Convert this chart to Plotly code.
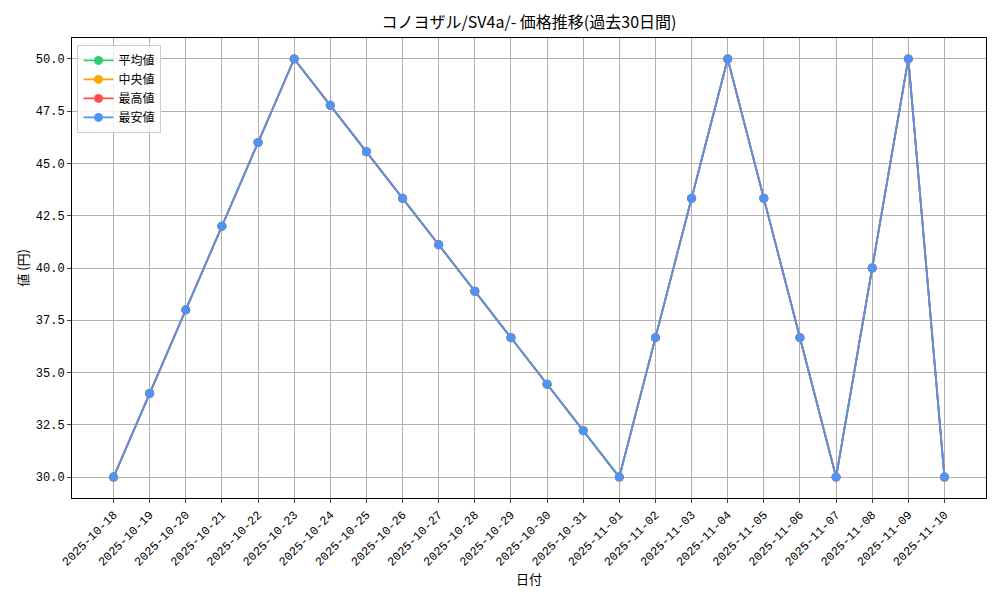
import plotly.graph_objects as go

dates = ["2025-10-18","2025-10-19","2025-10-20","2025-10-21","2025-10-22","2025-10-23",
         "2025-10-24","2025-10-25","2025-10-26","2025-10-27","2025-10-28","2025-10-29",
         "2025-10-30","2025-10-31","2025-11-01","2025-11-02","2025-11-03","2025-11-04",
         "2025-11-05","2025-11-06","2025-11-07","2025-11-08","2025-11-09","2025-11-10"]
avg_vals = [30.0, 34.0, 38.0, 42.0, 46.0, 50.0, 47.78, 45.56, 43.33, 41.11, 38.89, 36.67,
            34.44, 32.22, 30.0, 36.67, 43.33, 50.0, 43.33, 36.67, 30.0, 40.0, 50.0, 30.0]
median_vals = list(avg_vals)
max_vals = list(avg_vals)
min_vals = list(avg_vals)
y_ticks = [30, 32.5, 35, 37.5, 40, 42.5, 45, 47.5, 50]
y_ticktext = ["30.0", "32.5", "35.0", "37.5", "40.0", "42.5", "45.0", "47.5", "50.0"]

CJK = "Noto Sans CJK JP"
MONO = "Liberation Mono, Noto Sans CJK JP"
series = [("平均値", avg_vals, "#2ecc71"), ("中央値", median_vals, "#ffa500"),
          ("最高値", max_vals, "#ff4d4d"), ("最安値", min_vals, "#4f94f5")]

fig = go.Figure()
for name, vals, col in series:
    fig.add_trace(go.Scatter(x=list(range(len(dates))), y=vals, name=name, mode="lines+markers",
                             line=dict(color=col, width=1.8), marker=dict(color=col, size=9)))

n = len(dates)
fig.update_layout(
    width=1000, height=600,
    margin=dict(l=64, r=22, t=30, b=110),
    plot_bgcolor="white", paper_bgcolor="white",
    font=dict(family=CJK, size=13, color="black"),
    title=dict(text="コノヨザル/SV4a/- 価格推移(過去30日間)", x=0.5, xanchor="center",
               xref="paper", y=0.976, yanchor="middle", font=dict(family=CJK, size=16)),
    legend=dict(x=0.006, y=0.985, xanchor="left", yanchor="top", bgcolor="rgba(255,255,255,0.8)",
                bordercolor="#cccccc", borderwidth=1, font=dict(family=CJK, size=12),
                itemwidth=30, tracegroupgap=0),
    xaxis=dict(tickmode="array", tickvals=list(range(n)), ticktext=dates, tickangle=-45,
               range=[-1.15, n - 1 + 1.15], showgrid=True, gridcolor="#b0b0b0",
               showline=True, linecolor="black", mirror=True, ticks="outside", ticklen=4,
               zeroline=False, automargin=False, tickfont=dict(family=MONO, size=12)),
    yaxis=dict(range=[29.0, 51.0], tickmode="array", tickvals=y_ticks, ticktext=y_ticktext,
               showgrid=True, gridcolor="#b0b0b0", showline=True, linecolor="black", mirror=True,
               ticks="outside", ticklen=4, zeroline=False, automargin=False,
               tickfont=dict(family=MONO, size=12)),
    annotations=[
        dict(text="日付", xref="paper", yref="paper", x=0.5, y=-0.174, xanchor="center",
             yanchor="middle", showarrow=False, font=dict(family=CJK, size=13)),
        dict(text="値 (円)", xref="paper", yref="paper", x=-0.055, y=0.5, xanchor="center",
             yanchor="middle", textangle=-90, showarrow=False, font=dict(family=CJK, size=13)),
    ],
)
fig.write_html("out.html")
